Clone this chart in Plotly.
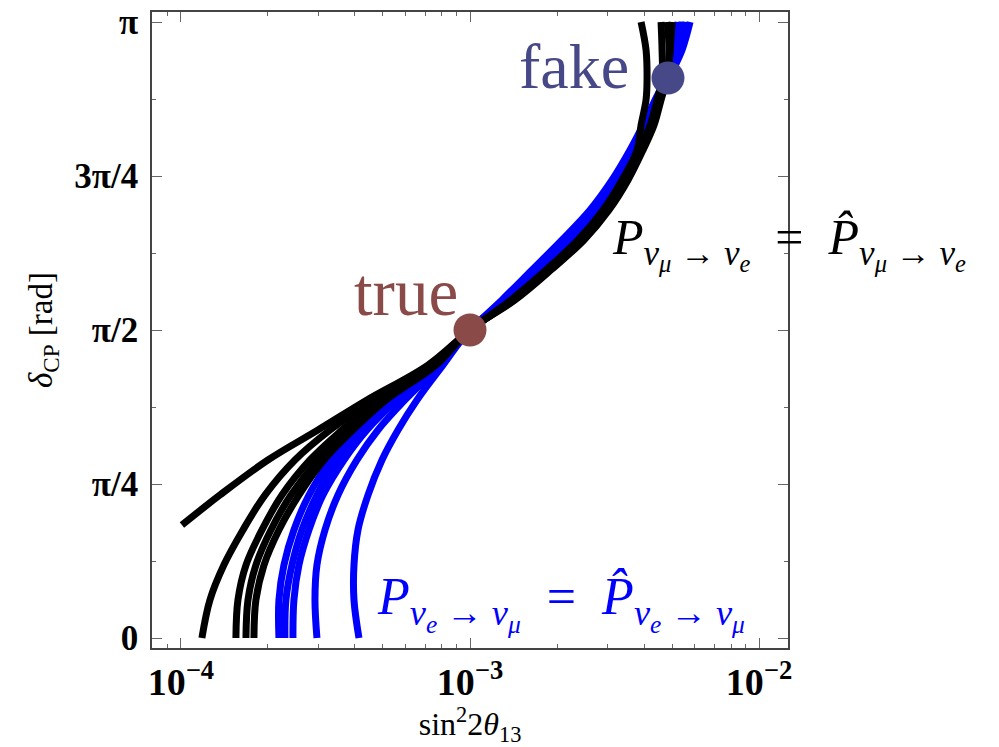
import math
import plotly.graph_objects as go

PI = math.pi

# delta_CP grids (rad)
DELTA_LOWER = [0.0, 0.194, 0.372, 0.551, 0.729, 0.908, 1.061, 1.214, 1.392, PI / 2]
DELTA_UPPER = [PI / 2, 1.724, 1.877, 2.030, 2.183, 2.336, 2.489, 2.616, 2.744, 2.856, 2.999, PI]
DELTA_B1_LOWER = [0.576, 0.729, 0.908, 1.061, 1.214, 1.392, PI / 2]

# black curves: P(nu_mu -> nu_e) = P_hat  (sin^2 2theta13 values)
B1_X_LOW = [1.008e-4, 1.364e-4, 2.000e-4, 2.979e-4, 4.401e-4, 7.157e-4, 1.0e-3]
B2_X_LOW = [1.182e-4, 1.260e-4, 1.408e-4, 1.639e-4, 1.953e-4, 2.480e-4, 3.279e-4, 4.617e-4, 7.272e-4, 1.0e-3]
B3_X_LOW = [1.550e-4, 1.575e-4, 1.679e-4, 1.907e-4, 2.236e-4, 2.796e-4, 3.607e-4, 4.805e-4, 7.389e-4, 1.0e-3]
B4_X_LOW = [1.679e-4, 1.706e-4, 1.817e-4, 2.048e-4, 2.403e-4, 2.979e-4, 3.784e-4, 4.961e-4, 7.508e-4, 1.0e-3]
B5_X_LOW = [1.789e-4, 1.817e-4, 1.938e-4, 2.183e-4, 2.560e-4, 3.125e-4, 3.937e-4, 5.122e-4, 7.628e-4, 1.0e-3]

B1_X_UP = [1.0e-3, 1.386e-3, 1.833e-3, 2.364e-3, 2.886e-3, 3.357e-3, 3.784e-3, 3.906e-3, 4.064e-3, 4.097e-3, 4.064e-3, 3.906e-3]
B2_X_UP = [1.0e-3, 1.398e-3, 1.848e-3, 2.383e-3, 2.909e-3, 3.411e-3, 3.845e-3, 4.196e-3, 4.437e-3, 4.617e-3, 4.617e-3, 4.580e-3]
B3_X_UP = [1.0e-3, 1.409e-3, 1.876e-3, 2.422e-3, 2.955e-3, 3.466e-3, 3.906e-3, 4.263e-3, 4.544e-3, 4.805e-3, 4.882e-3, 4.805e-3]
B4_X_UP = [1.0e-3, 1.431e-3, 1.906e-3, 2.480e-3, 3.027e-3, 3.522e-3, 3.969e-3, 4.332e-3, 4.580e-3, 4.805e-3, 4.921e-3, 5.000e-3]
B5_X_UP = [1.0e-3, 1.420e-3, 1.891e-3, 2.460e-3, 3.003e-3, 3.494e-3, 3.937e-3, 4.298e-3, 4.544e-3, 4.805e-3, 4.921e-3, 4.921e-3]

# blue curves: P(nu_e -> nu_mu) = P_hat
L1_X_LOW = [4.130e-4, 3.969e-4, 3.969e-4, 4.097e-4, 4.437e-4, 4.961e-4, 5.637e-4, 6.556e-4, 8.064e-4, 1.0e-3]
L2_X_LOW = [2.955e-4, 2.909e-4, 2.955e-4, 3.150e-4, 3.494e-4, 4.064e-4, 4.805e-4, 5.958e-4, 7.875e-4, 1.0e-3]
L3_X_LOW = [2.441e-4, 2.460e-4, 2.560e-4, 2.773e-4, 3.100e-4, 3.665e-4, 4.401e-4, 5.592e-4, 7.812e-4, 1.0e-3]
L4_X_LOW = [2.183e-4, 2.183e-4, 2.272e-4, 2.460e-4, 2.773e-4, 3.304e-4, 4.033e-4, 5.245e-4, 7.689e-4, 1.0e-3]
L5_X_LOW = [2.290e-4, 2.308e-4, 2.422e-4, 2.622e-4, 2.955e-4, 3.466e-4, 4.163e-4, 5.373e-4, 7.750e-4, 1.0e-3]

L1_X_UP = [1.0e-3, 1.353e-3, 1.761e-3, 2.254e-3, 2.795e-3, 3.304e-3, 3.784e-3, 4.163e-3, 4.508e-3, 4.882e-3, 5.414e-3, 5.771e-3]
L2_X_UP = [1.0e-3, 1.332e-3, 1.719e-3, 2.183e-3, 2.729e-3, 3.226e-3, 3.695e-3, 4.097e-3, 4.472e-3, 4.843e-3, 5.287e-3, 5.589e-3]
L3_X_UP = [1.0e-3, 1.311e-3, 1.679e-3, 2.132e-3, 2.665e-3, 3.150e-3, 3.636e-3, 4.033e-3, 4.401e-3, 4.805e-3, 5.163e-3, 5.414e-3]
L4_X_UP = [1.0e-3, 1.290e-3, 1.639e-3, 2.081e-3, 2.602e-3, 3.100e-3, 3.578e-3, 3.969e-3, 4.367e-3, 4.767e-3, 5.040e-3, 5.245e-3]
L5_X_UP = [1.0e-3, 1.322e-3, 1.706e-3, 2.166e-3, 2.707e-3, 3.200e-3, 3.665e-3, 4.064e-3, 4.437e-3, 4.805e-3, 5.245e-3, 5.501e-3]

TRUE_POINT = (1.0e-3, PI / 2)
FAKE_POINT = (4.84e-3, 2.856)

X_TICKS = [1e-4, 1e-3, 1e-2]
X_TICK_TEXT = ["<b>10<sup>−4</sup></b>", "<b>10<sup>−3</sup></b>", "<b>10<sup>−2</sup></b>"]
Y_TICKS = [0, PI / 4, PI / 2, 3 * PI / 4, PI]
Y_TICK_TEXT = ["<b>0</b>", "<b>π/4</b>", "<b>π/2</b>", "<b>3π/4</b>", "<b>π</b>"]
X_MINOR = [k * 10.0 ** e for e in (-5, -4, -3, -2) for k in range(2, 10)]
Y_MINOR = [PI / 8, 3 * PI / 8, 5 * PI / 8, 7 * PI / 8]

BLACK = "#000000"
BLUE = "#0000ff"
TRUE_COLOR = "#8a4a48"
FAKE_COLOR = "#474887"
SERIF = "Liberation Serif"
LW = 7

fig = go.Figure()

blue_curves = [
    (L1_X_LOW, L1_X_UP), (L2_X_LOW, L2_X_UP), (L3_X_LOW, L3_X_UP),
    (L4_X_LOW, L4_X_UP), (L5_X_LOW, L5_X_UP),
]
black_curves = [
    (B2_X_LOW, B2_X_UP, DELTA_LOWER), (B3_X_LOW, B3_X_UP, DELTA_LOWER),
    (B4_X_LOW, B4_X_UP, DELTA_LOWER), (B5_X_LOW, B5_X_UP, DELTA_LOWER),
    (B1_X_LOW, B1_X_UP, DELTA_B1_LOWER),
]

for low, up in blue_curves:
    fig.add_trace(go.Scatter(
        x=low + up[1:], y=DELTA_LOWER + DELTA_UPPER[1:], mode="lines",
        line=dict(color=BLUE, width=LW, shape="spline", smoothing=1.0),
        showlegend=False, hoverinfo="skip"))

for low, up, dl in black_curves:
    fig.add_trace(go.Scatter(
        x=low + up[1:], y=dl + DELTA_UPPER[1:], mode="lines",
        line=dict(color=BLACK, width=LW, shape="spline", smoothing=1.0),
        showlegend=False, hoverinfo="skip"))

fig.add_trace(go.Scatter(x=[TRUE_POINT[0]], y=[TRUE_POINT[1]], mode="markers",
                         marker=dict(size=33, color=TRUE_COLOR), showlegend=False))
fig.add_trace(go.Scatter(x=[FAKE_POINT[0]], y=[FAKE_POINT[1]], mode="markers",
                         marker=dict(size=33, color=FAKE_COLOR), showlegend=False))

black_label = ("<i>P</i><sub><i>ν</i><sub><i>μ</i></sub> → <i>ν</i><sub><i>e</i></sub></sub>"
               "&nbsp; = &nbsp;<i>P̂</i><sub><i>ν</i><sub><i>μ</i></sub> → <i>ν</i><sub><i>e</i></sub></sub>")
blue_label = ("<i>P</i><sub><i>ν</i><sub><i>e</i></sub> → <i>ν</i><sub><i>μ</i></sub></sub>"
              "&nbsp; = &nbsp;<i>P̂</i><sub><i>ν</i><sub><i>e</i></sub> → <i>ν</i><sub><i>μ</i></sub></sub>")

annotations = [
    dict(text="true", x=0.40, y=0.56, xref="paper", yref="paper", showarrow=False,
         xanchor="center", yanchor="middle", font=dict(family=SERIF, size=67, color=TRUE_COLOR)),
    dict(text="fake", x=0.663, y=0.915, xref="paper", yref="paper", showarrow=False,
         xanchor="center", yanchor="middle", font=dict(family=SERIF, size=64, color=FAKE_COLOR)),
    dict(text=black_label, x=0.72, y=0.637, xref="paper", yref="paper", showarrow=False,
         xanchor="left", yanchor="middle", font=dict(family=SERIF, size=50, color=BLACK)),
    dict(text=blue_label, x=0.35, y=0.07, xref="paper", yref="paper", showarrow=False,
         xanchor="left", yanchor="middle", font=dict(family=SERIF, size=52, color=BLUE)),
]

axis_common = dict(
    showgrid=False, zeroline=False, showline=True, linecolor="#444", linewidth=1.5,
    mirror="ticks", ticks="inside", ticklen=10, tickwidth=1, tickcolor="#666",
    automargin=False, ticklabeloverflow="allow",
)

# the page body adds an 8 px offset, so the figure is 8 px smaller than the window
fig.update_layout(
    width=991, height=739,
    margin=dict(l=144, r=211, t=4, b=99, autoexpand=False),
    plot_bgcolor="white", paper_bgcolor="white",
    annotations=annotations,
    xaxis=dict(
        type="log", range=[-4.1, -1.9], tickvals=X_TICKS, ticktext=X_TICK_TEXT,
        tickfont=dict(family=SERIF, size=38, color="black"),
        minor=dict(ticks="inside", ticklen=4, tickcolor="#666", tickvals=X_MINOR),
        title=dict(text="sin<sup>2</sup>2<i>θ</i><sub>13</sub>",
                   font=dict(family=SERIF, size=32, color="black"), standoff=4),
        **axis_common),
    yaxis=dict(
        range=[-0.051, PI + 0.051], tickvals=Y_TICKS, ticktext=Y_TICK_TEXT,
        tickfont=dict(family=SERIF, size=35, color="black"), ticklabelstandoff=5,
        minor=dict(ticks="inside", ticklen=4, tickcolor="#666", tickvals=Y_MINOR),
        title=dict(text="<i>δ</i><sub>CP</sub> [rad]",
                   font=dict(family=SERIF, size=33, color="black"), standoff=12),
        **axis_common),
)

fig.write_html("out.html")
